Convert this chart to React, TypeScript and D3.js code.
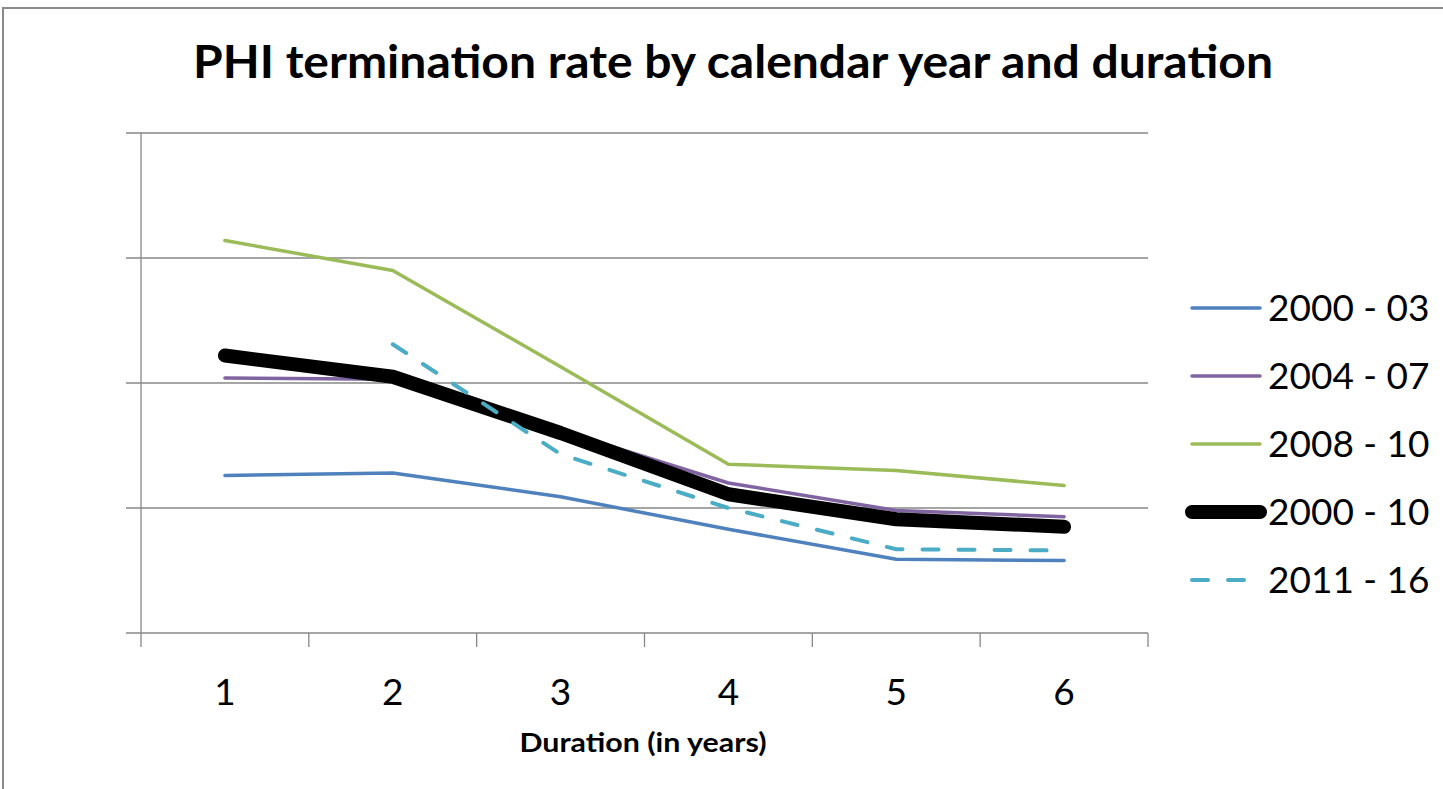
import React, {Component} from 'react';
import * as d3 from "d3"

// durations on the x axis
const durations = ["1", "2", "3", "4", "5", "6"]

// termination rate (y axis has no labels, grid step = 1)
const rate2000_03 = [1.26, 1.28, 1.09, 0.83, 0.59, 0.58]
const rate2004_07 = [2.04, 2.03, 1.62, 1.20, 0.98, 0.93]
const rate2008_10 = [3.14, 2.90, 2.13, 1.35, 1.30, 1.18]
const rate2000_10 = [2.22, 2.05, 1.60, 1.11, 0.91, 0.85]
const rate2011_16 = [null, 2.31, 1.43, 1.00, 0.67, 0.66]

const seriesNames = ["2000 - 03", "2004 - 07", "2008 - 10", "2000 - 10", "2011 - 16"]
const yTicks = [0, 1, 2, 3, 4]

const FONT = "Lato, 'Open Sans', sans-serif"

interface AppState {}

class App extends Component<{}, AppState> {
    renderChart() {
      const width = 1443
      const height = 789

      const svg = d3.select("#chart")
                      .append("svg")
                      .attr("width", width)
                      .attr("height", height)
                      .style("display", "block")

      svg.append("rect").attr("width", width).attr("height", height).attr("fill", "#fff")

      // outer frame
      svg.append("rect")
          .attr("x", 3).attr("y", 8)
          .attr("width", width + 20).attr("height", height + 20)
          .attr("fill", "none")
          .attr("stroke", "#8a8a8a")
          .attr("stroke-width", 2)

      svg.append("text")
          .attr("x", 733).attr("y", 78)
          .attr("text-anchor", "middle")
          .attr("font-family", FONT)
          .attr("font-weight", "bold")
          .attr("font-size", 46)
          .attr("textLength", 1080)
          .attr("lengthAdjust", "spacingAndGlyphs")
          .attr("fill", "#000")
          .text("PHI termination rate by calendar year and duration")

      const x = d3.scaleBand().domain(durations).range([141, 1148])
      const y = d3.scaleLinear().domain([0, 4]).range([633, 133])
      const cx = (d: string) => (x(d) as number) + x.bandwidth() / 2

      const grid = "#878787"

      // gridlines + y tick marks
      svg.append("g").selectAll("line")
          .data(yTicks)
          .join("line")
          .attr("x1", 126).attr("x2", 1148)
          .attr("y1", d => y(d)).attr("y2", d => y(d))
          .attr("stroke", grid).attr("stroke-width", 1.3)

      // y axis line
      svg.append("line")
          .attr("x1", 141).attr("x2", 141)
          .attr("y1", y(4)).attr("y2", y(0))
          .attr("stroke", grid).attr("stroke-width", 1.3)

      // x ticks at band edges
      const edges = durations.map(d => x(d) as number).concat([1148])
      svg.append("g").selectAll("line")
          .data(edges)
          .join("line")
          .attr("x1", d => d).attr("x2", d => d)
          .attr("y1", y(0)).attr("y2", y(0) + 14)
          .attr("stroke", grid).attr("stroke-width", 1.3)

      svg.append("g").selectAll("text")
          .data(durations)
          .join("text")
          .attr("x", d => cx(d))
          .attr("y", 705)
          .attr("text-anchor", "middle")
          .attr("font-family", FONT)
          .attr("font-size", 37)
          .text(d => d)

      svg.append("text")
          .attr("x", 643).attr("y", 752)
          .attr("text-anchor", "middle")
          .attr("font-family", FONT)
          .attr("font-weight", "bold")
          .attr("font-size", 27)
          .attr("textLength", 247)
          .attr("lengthAdjust", "spacingAndGlyphs")
          .text("Duration (in years)")

      const allSeries = [rate2000_03, rate2004_07, rate2008_10, rate2000_10, rate2011_16]
      const colors = ["#4F81BD", "#8064A2", "#9BBB59", "#000000", "#4BACC6"]
      const widths = [3.5, 3.5, 3.5, 14, 4]
      const dashes = [null, null, null, null, "16,20"]

      const line = d3.line<any>()
          .defined(d => d.v != null)
          .x(d => cx(d.k))
          .y(d => y(d.v))

      allSeries.forEach((vals, i) => {
        svg.append("path")
            .datum(durations.map((k, j) => ({k, v: vals[j]})))
            .attr("d", line)
            .attr("fill", "none")
            .attr("stroke", colors[i])
            .attr("stroke-width", widths[i])
            .attr("stroke-linejoin", "round")
            .attr("stroke-linecap", "round")
            .attr("stroke-dasharray", dashes[i])
      })

      // legend
      const leg = svg.append("g").selectAll("g")
          .data(seriesNames)
          .join("g")
          .attr("transform", (d, i) => `translate(0,${308 + i * 68})`)

      leg.append("line")
          .attr("x1", 1192).attr("x2", (d, i) => i === 4 ? 1248 : 1260)
          .attr("y1", 0).attr("y2", 0)
          .attr("stroke", (d, i) => colors[i])
          .attr("stroke-width", (d, i) => widths[i])
          .attr("stroke-linecap", "round")
          .attr("stroke-dasharray", (d, i) => dashes[i])

      leg.append("text")
          .attr("x", 1268).attr("y", 13)
          .attr("font-family", FONT)
          .attr("font-size", 37)
          .text(d => d)
    }

    componentDidMount() {
      this.renderChart()
    }

    public render(): JSX.Element {
        return (
            <div
              id='chart'
              style={{position: "absolute", left: 0, top: 0, width: 1443, height: 789, overflow: "hidden"}}
            >
            </div>
       )
    }
}
export default App;
